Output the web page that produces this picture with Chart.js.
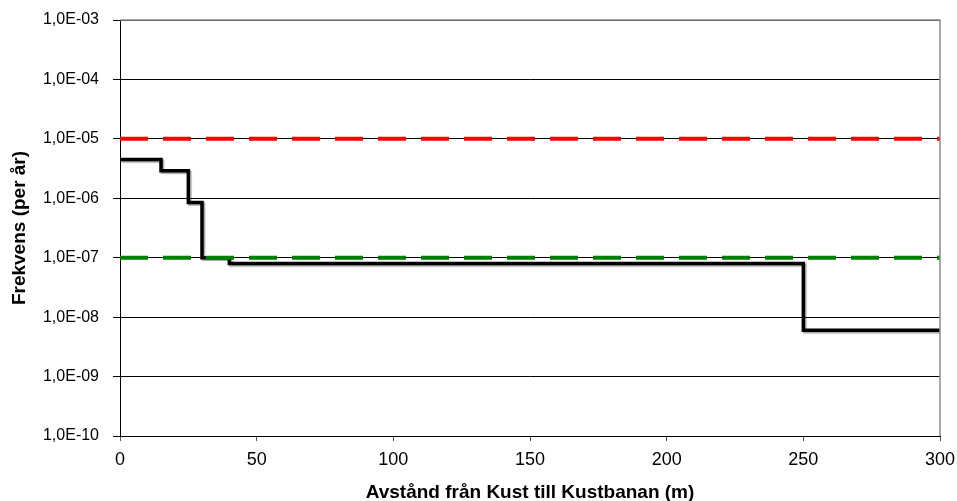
<!DOCTYPE html>
<html>
<head>
<meta charset="utf-8">
<script src="https://cdn.jsdelivr.net/npm/chart.js@4/dist/chart.umd.min.js"></script>
<style>
  html, body { margin: 0; padding: 0; background: #fff; }
  #wrap { width: 957px; height: 501px; }
</style>
</head>
<body>
<div id="wrap"><canvas id="c" width="957" height="501"></canvas></div>
<script>
// Step breakpoints along the distance axis (m)
const distances = [0, 15, 25, 30, 40, 250, 300];
// Frequency per step (per year); the last value is held to the end
const frequencies = [4.5e-6, 2.9e-6, 8.5e-7, 1.0e-7, 8.0e-8, 6.0e-9, 6.0e-9];
// Reference levels
const upperLimit = 1e-5;
const lowerLimit = 1e-7;
const xRange = [0, 300];
const yTicks = [1e-10, 1e-9, 1e-8, 1e-7, 1e-6, 1e-5, 1e-4, 1e-3];

const stepPoints = distances.map((d, i) => ({ x: d, y: frequencies[i] }));
const limitLine = v => xRange.map(x => ({ x, y: v }));

function sciLabel(v) {
  const e = Math.round(Math.log10(v));
  const sign = e < 0 ? '-' : '+';
  const a = Math.abs(e);
  return '1,0E' + sign + (a < 10 ? '0' + a : a);
}

const FONT = 'Liberation Sans, Arial, sans-serif';

// Gray frame on the top and right edges of the plotting area
const frame = {
  id: 'frame',
  afterDatasetsDraw(chart) {
    const { ctx, chartArea: a } = chart;
    ctx.save();
    ctx.strokeStyle = '#8c8c8c';
    ctx.lineWidth = 1.5;
    ctx.beginPath();
    ctx.moveTo(a.left, a.top);
    ctx.lineTo(a.right, a.top);
    ctx.lineTo(a.right, a.bottom);
    ctx.stroke();
    ctx.restore();
  }
};

// Soft drop shadow under the step line
const shadow = {
  id: 'shadow',
  beforeDatasetDraw(chart, args) {
    if (args.index === 2) {
      const ctx = chart.ctx;
      ctx.save();
      ctx.shadowColor = 'rgba(0,0,0,0.35)';
      ctx.shadowOffsetX = 1.5;
      ctx.shadowOffsetY = 1.5;
      ctx.shadowBlur = 1;
    }
  },
  afterDatasetDraw(chart, args) {
    if (args.index === 2) chart.ctx.restore();
  }
};

new Chart(document.getElementById('c'), {
  type: 'line',
  data: {
    datasets: [
      {
        data: limitLine(upperLimit),
        borderColor: '#ff0000',
        borderWidth: 4,
        borderDash: [28, 15],
        pointRadius: 0,
        fill: false
      },
      {
        data: limitLine(lowerLimit),
        borderColor: '#008000',
        borderWidth: 4,
        borderDash: [28, 15],
        pointRadius: 0,
        fill: false
      },
      {
        data: stepPoints,
        borderColor: '#000000',
        borderWidth: 3.5,
        stepped: 'before',
        pointRadius: 0,
        fill: false
      }
    ]
  },
  options: {
    responsive: false,
    animation: false,
    devicePixelRatio: 1,
    layout: { padding: { top: 20, right: 17, left: 0, bottom: 0 } },
    plugins: { legend: { display: false }, tooltip: { enabled: false } },
    scales: {
      x: {
        type: 'linear',
        min: xRange[0],
        max: xRange[1],
        ticks: {
          stepSize: 50,
          color: '#000',
          font: { family: FONT, size: 18 },
          padding: 8,
          maxRotation: 0
        },
        grid: {
          drawOnChartArea: false,
          color: '#000',
          tickLength: 5,
          tickColor: '#555'
        },
        border: { color: '#000', width: 1 },
        title: {
          display: true,
          text: 'Avstånd från Kust till Kustbanan (m)',
          color: '#000',
          font: { family: FONT, size: 19, weight: 'bold', lineHeight: 1 },
          padding: { top: 0, bottom: -1 }
        },
        afterFit(scale) {
          scale.height = 65;
          scale.paddingLeft = 0;
          scale.paddingRight = 0;
        }
      },
      y: {
        type: 'logarithmic',
        min: yTicks[0],
        max: yTicks[yTicks.length - 1],
        afterBuildTicks(scale) { scale.ticks = yTicks.map(v => ({ value: v })); },
        ticks: {
          color: '#000',
          font: { family: FONT, size: 16 },
          padding: 14,
          callback: v => sciLabel(v)
        },
        grid: {
          color: '#000',
          lineWidth: 1,
          tickLength: 7,
          tickColor: '#000'
        },
        border: { color: '#000', width: 1 },
        title: {
          display: true,
          text: 'Frekvens (per år)',
          color: '#000',
          font: { family: FONT, size: 19, weight: 'bold', lineHeight: 1 },
          padding: { top: 10, bottom: 0 }
        },
        afterFit(scale) {
          scale.width = 120;
          scale.paddingTop = 0;
          scale.paddingBottom = 0;
        }
      }
    }
  },
  plugins: [frame, shadow]
});
</script>
</body>
</html>
